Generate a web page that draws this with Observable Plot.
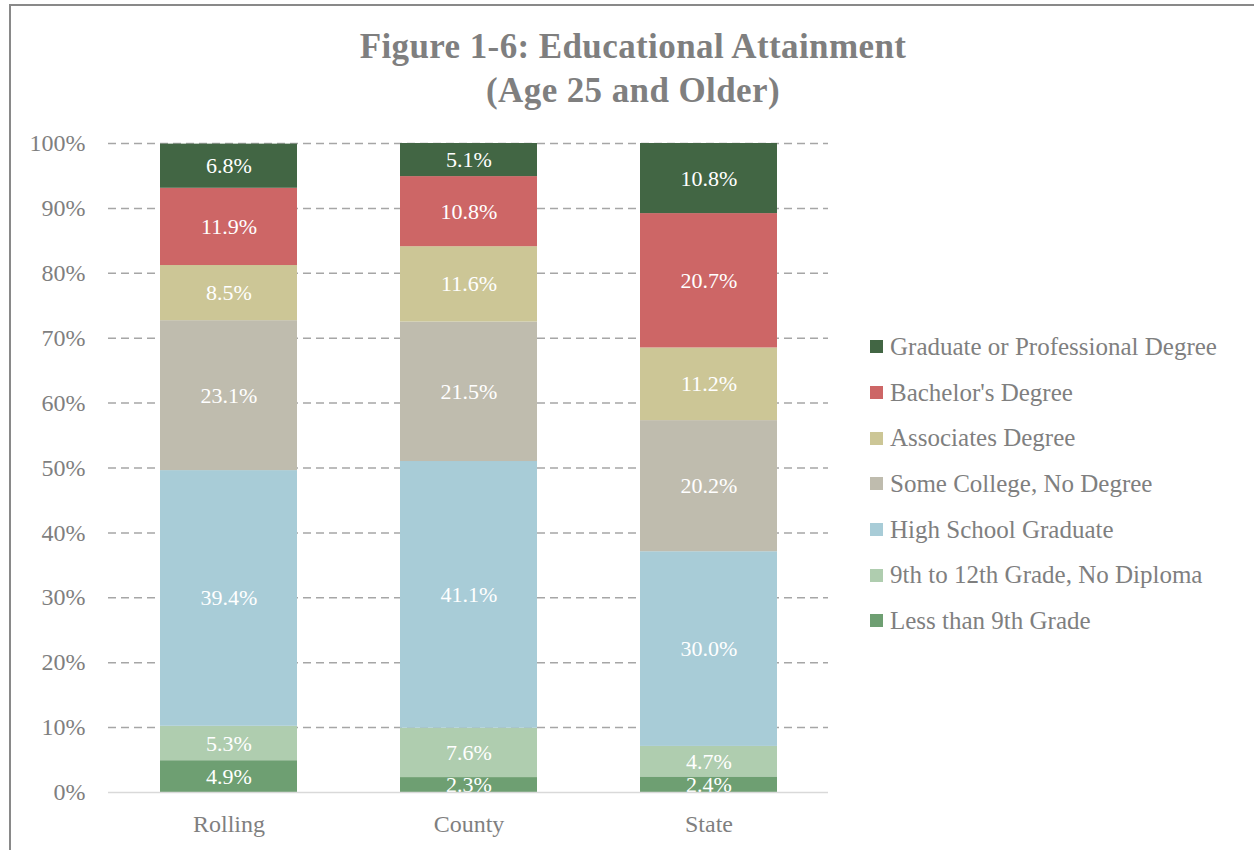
<!DOCTYPE html>
<html><head><meta charset="utf-8">
<script src="https://cdn.jsdelivr.net/npm/d3@7"></script>
<script src="https://cdn.jsdelivr.net/npm/@observablehq/plot@0.6"></script>
<style>
body{margin:0;background:#fff;}
#wrap{position:relative;width:1254px;height:850px;overflow:hidden;font-family:"Liberation Serif",serif;}
#frame{position:absolute;left:9px;top:4px;right:-10px;bottom:-10px;border-left:2px solid #898989;border-top:2px solid #898989;}
#title{position:absolute;left:0;width:1266px;top:25px;text-align:center;color:#7f7f7f;font-weight:bold;font-size:35px;line-height:44px;letter-spacing:0.4px;}
#chart{position:absolute;left:0;top:100px;}
#legend{position:absolute;left:870px;top:324px;}
.row{display:flex;align-items:center;height:45.7px;color:#7f7f7f;font-size:25px;white-space:nowrap;}
.sw{width:13px;height:13px;margin-right:7px;flex:none;}
</style></head>
<body><div id="wrap"><div id="frame"></div>
<div id="title">Figure 1-6: Educational Attainment<br>(Age 25 and Older)</div>
<div id="chart"></div><div id="legend"></div></div>
<script>
const places = ["Rolling", "County", "State"];
// bottom to top
const categories = ["Less than 9th Grade", "9th to 12th Grade, No Diploma", "High School Graduate", "Some College, No Degree", "Associates Degree", "Bachelor's Degree", "Graduate or Professional Degree"];
const colors = ["#6e9f72", "#afcdaf", "#a8ccd7", "#bfbcae", "#ccc696", "#cd6666", "#426644"];
const rolling = [4.9, 5.3, 39.4, 23.1, 8.5, 11.9, 6.8];
const county = [2.3, 7.6, 41.1, 21.5, 11.6, 10.8, 5.1];
const state = [2.4, 4.7, 30.0, 20.2, 11.2, 20.7, 10.8];
const yTicks = [0, 10, 20, 30, 40, 50, 60, 70, 80, 90, 100];

const series = [rolling, county, state];
const data = [];
places.forEach((p, i) => categories.forEach((c, j) => data.push({place: p, cat: c, value: series[i][j]})));

const font = '"Liberation Serif", serif';
const chart = Plot.plot({
  width: 900, height: 740,
  marginLeft: 108, marginRight: 72, marginTop: 43, marginBottom: 48,
  style: {fontFamily: font, color: "#7f7f7f", background: "transparent"},
  x: {domain: places, paddingInner: 0.43, paddingOuter: 0.215, label: null},
  y: {domain: [0, 100], label: null},
  color: {domain: categories, range: colors},
  marks: [
    Plot.ruleY(yTicks.filter(d => d > 0), {stroke: "#a6a6a6", strokeWidth: 1.5, strokeDasharray: "8,5"}),
    Plot.barY(data, {x: "place", y: "value", fill: "cat", z: "cat", order: categories}),
    Plot.text(data, Plot.stackY({x: "place", y: "value", z: "cat", order: categories, text: d => d.value.toFixed(1) + "%", fill: "white", fontSize: 22, fontFamily: font, clip: true})),
    Plot.ruleY([0], {stroke: "#d9d9d9", strokeWidth: 1.5}),
    Plot.axisY({ticks: yTicks, tickFormat: d => d + "%", tickSize: 0, tickPadding: 23, fontSize: 24, label: null}),
    Plot.axisX({tickSize: 0, tickPadding: 22, fontSize: 24, label: null})
  ]
});
document.getElementById("chart").appendChild(chart);

const legend = document.getElementById("legend");
for (let j = categories.length - 1; j >= 0; j--) {
  const row = document.createElement("div");
  row.className = "row";
  const sw = document.createElement("div");
  sw.className = "sw";
  sw.style.background = colors[j];
  const t = document.createElement("span");
  t.textContent = categories[j];
  row.appendChild(sw); row.appendChild(t);
  legend.appendChild(row);
}
</script></body></html>
